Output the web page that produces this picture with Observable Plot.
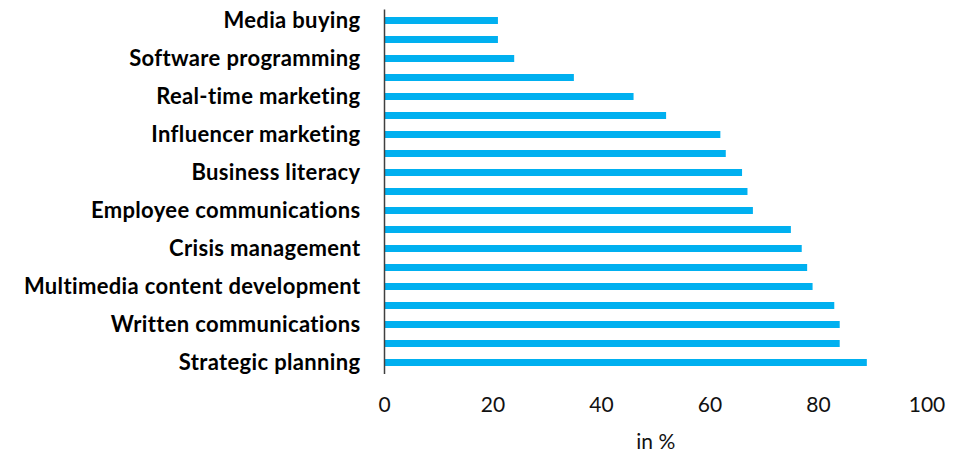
<!DOCTYPE html>
<html>
<head>
<meta charset="utf-8">
<script src="https://cdn.jsdelivr.net/npm/d3@7"></script>
<script src="https://cdn.jsdelivr.net/npm/@observablehq/plot@0.6"></script>
<style>
  html, body { margin: 0; padding: 0; background: #fff; }
  #chart svg { display: block; }
  #chart g[aria-label="y-axis tick label"] text { letter-spacing: 0.35px; }
</style>
</head>
<body>
<div id="chart"></div>
<script>
// Category labels, top to bottom (unlabeled rows in the original are null)
const categories = [
  "Media buying", null, "Software programming", null, "Real-time marketing",
  null, "Influencer marketing", null, "Business literacy", null,
  "Employee communications", null, "Crisis management", null,
  "Multimedia content development", null, "Written communications", null,
  "Strategic planning"
];
// Share in %, same order
const values = [21, 21, 24, 35, 46, 52, 62, 63, 66, 67, 68, 75, 77, 78, 79, 83, 84, 84, 89];
const xTicks = [0, 20, 40, 60, 80, 100];
const xLabel = "in %";

const rows = values.map((v, i) => ({idx: i, label: categories[i], value: v}));
const labeledIdx = rows.filter(d => d.label).map(d => d.idx);

const chart = Plot.plot({
  width: 969,
  height: 453,
  marginLeft: 384,
  marginRight: 42.5,
  marginTop: 9.4,
  marginBottom: 79,
  style: {fontFamily: "Lato, 'Open Sans', sans-serif", background: "#fff"},
  x: {domain: [0, 100]},
  y: {domain: rows.map(d => d.idx), paddingInner: 0.635, paddingOuter: 0.3175, align: 0.5},
  marks: [
    Plot.barX(rows, {x: "value", y: "idx", fill: "#00B0F0"}),
    Plot.ruleX([0], {stroke: "#404040", strokeWidth: 1.5}),
    Plot.axisY({
      ticks: labeledIdx,
      tickFormat: i => categories[i] ?? "",
      tickSize: 0,
      tickPadding: 24,
      fontSize: 22,
      fontWeight: "bold",
      fill: "#000",
      label: null
    }),
    Plot.axisX({
      ticks: xTicks,
      tickSize: 0,
      tickPadding: 23,
      fontSize: 21,
      fill: "#111",
      label: xLabel,
      labelAnchor: "center",
      labelArrow: "none",
      labelOffset: 74
    })
  ]
});
document.getElementById("chart").append(chart);
</script>
</body>
</html>
